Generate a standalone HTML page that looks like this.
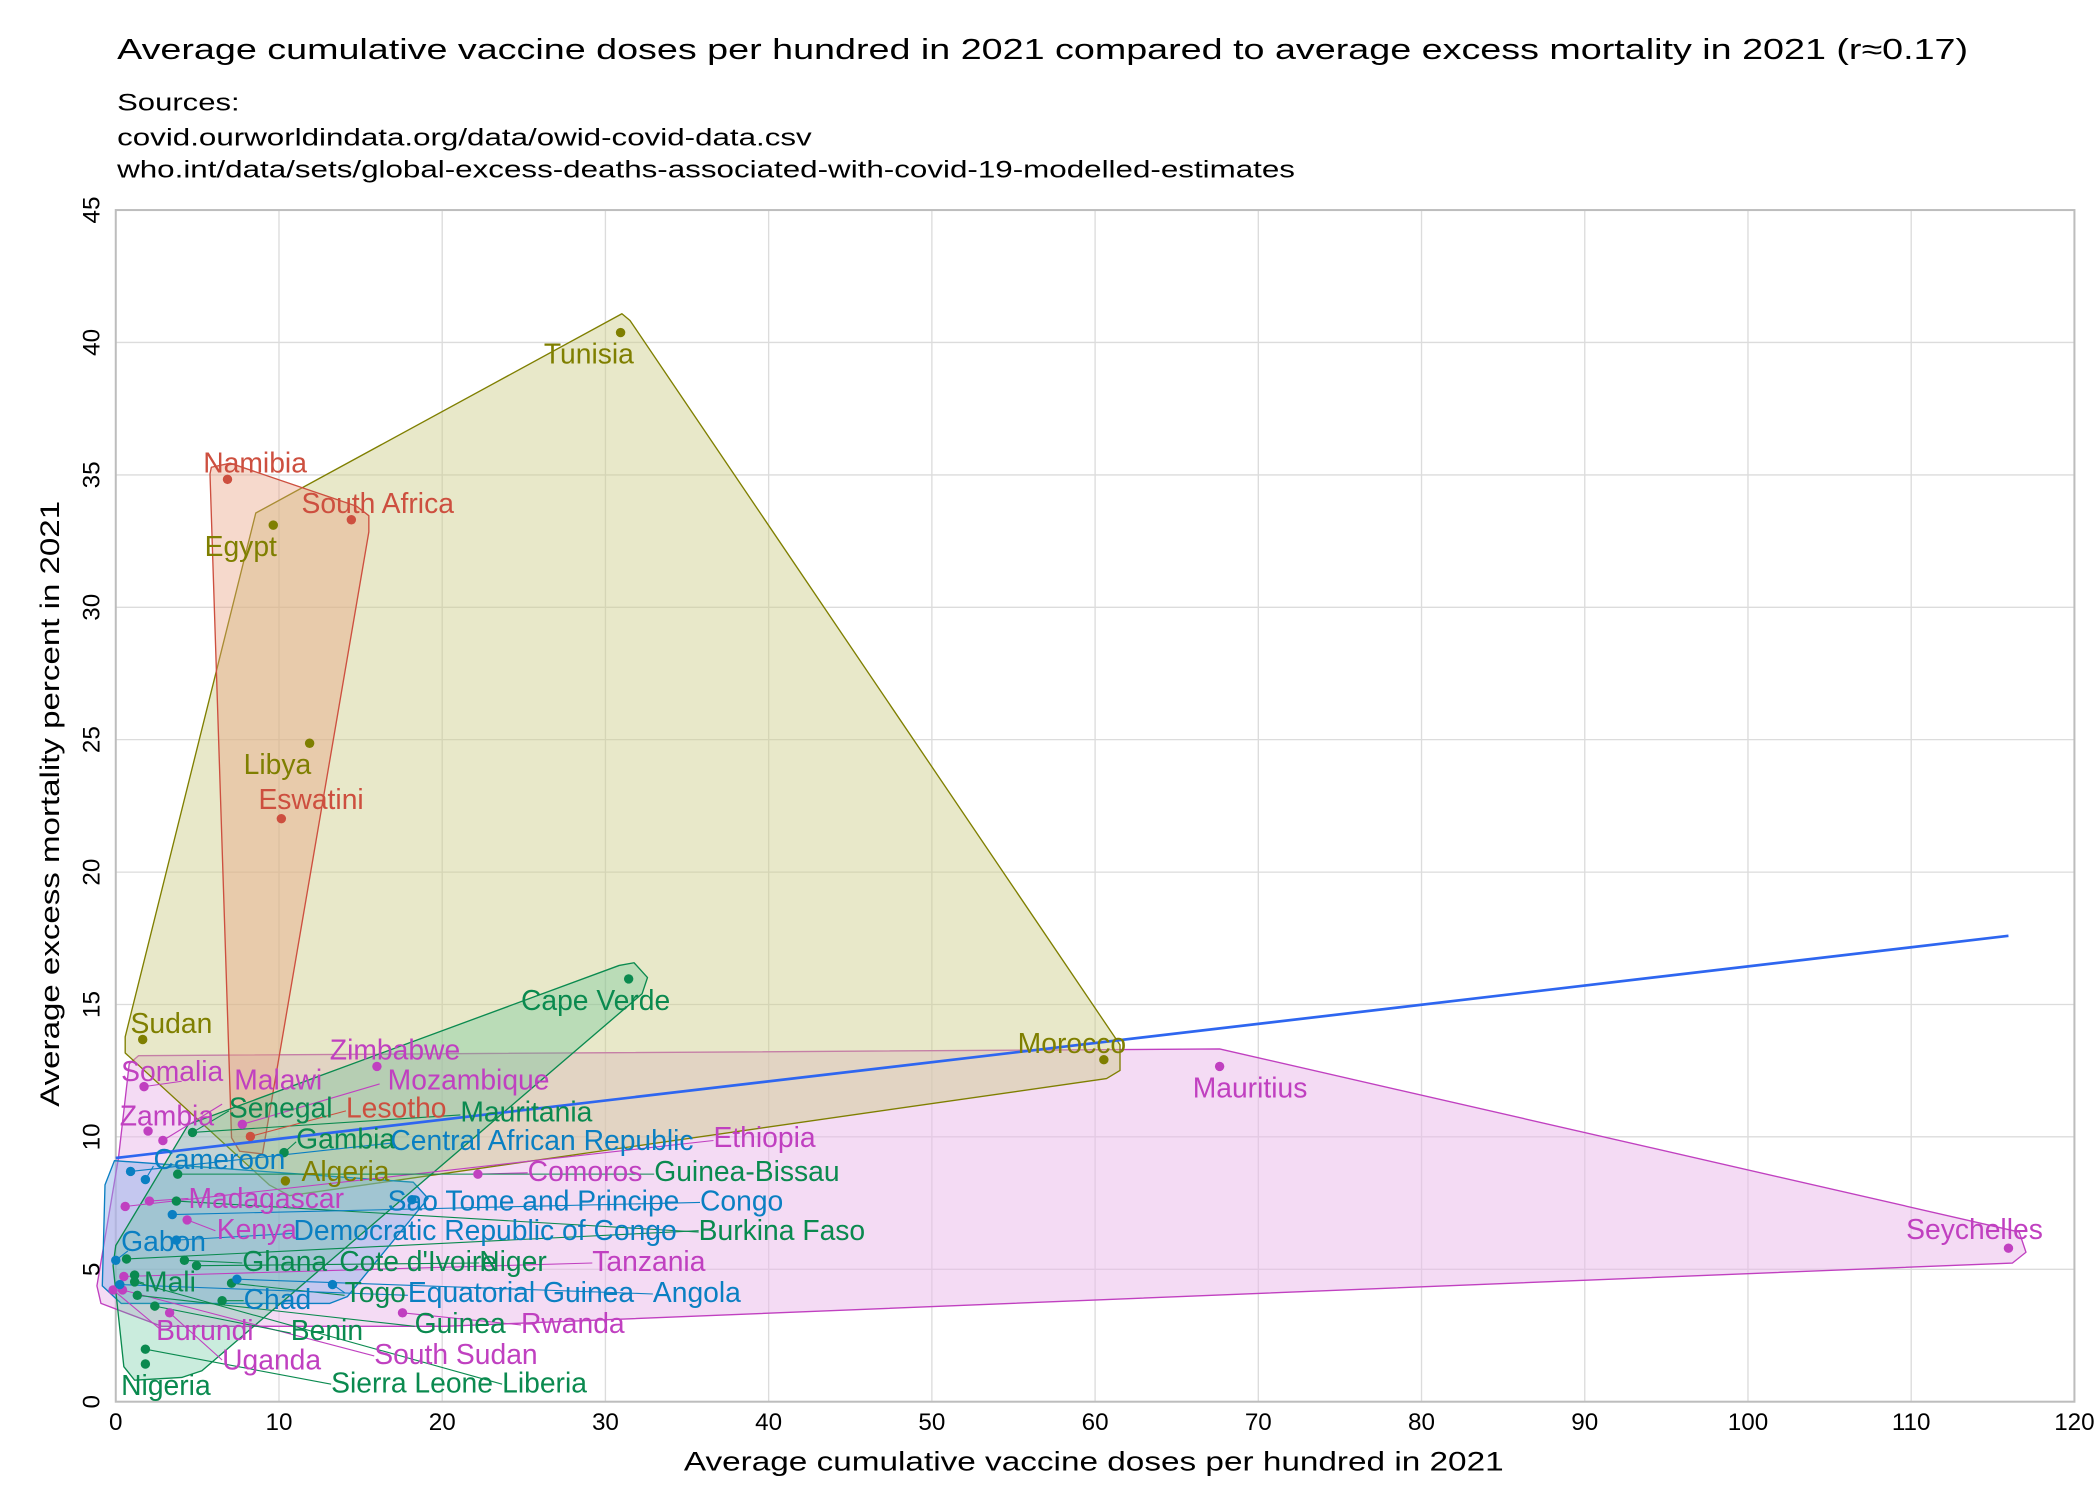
<!DOCTYPE html>
<html><head><meta charset="utf-8"><style>
html,body{margin:0;padding:0;background:#fff;}
svg{display:block;}
text{font-family:"Liberation Sans",sans-serif;}
</style></head><body>
<svg width="2100" height="1500" viewBox="0 0 1560 1114" preserveAspectRatio="none" xmlns="http://www.w3.org/2000/svg">
<rect width="1560" height="1114" fill="#fff"/>
<text x="87" y="44" font-size="21" textLength="1375" lengthAdjust="spacingAndGlyphs">Average cumulative vaccine doses per hundred in 2021 compared to average excess mortality in 2021 (r≈0.17)</text>
<text x="87" y="82" font-size="18" textLength="91" lengthAdjust="spacingAndGlyphs">Sources:</text>
<text x="87" y="108" font-size="18" textLength="516" lengthAdjust="spacingAndGlyphs">covid.ourworldindata.org/data/owid-covid-data.csv</text>
<text x="87" y="132" font-size="18" textLength="875" lengthAdjust="spacingAndGlyphs">who.int/data/sets/global-excess-deaths-associated-with-covid-19-modelled-estimates</text>

<g stroke="#dcdcdc" stroke-width="1">
<line x1="207.25" y1="156" x2="207.25" y2="1041"/><line x1="328.5" y1="156" x2="328.5" y2="1041"/><line x1="449.75" y1="156" x2="449.75" y2="1041"/><line x1="571" y1="156" x2="571" y2="1041"/><line x1="692.25" y1="156" x2="692.25" y2="1041"/><line x1="813.5" y1="156" x2="813.5" y2="1041"/><line x1="934.75" y1="156" x2="934.75" y2="1041"/><line x1="1056" y1="156" x2="1056" y2="1041"/><line x1="1177.25" y1="156" x2="1177.25" y2="1041"/><line x1="1298.5" y1="156" x2="1298.5" y2="1041"/><line x1="1419.75" y1="156" x2="1419.75" y2="1041"/>
<line x1="86" y1="942.7" x2="1541" y2="942.7"/><line x1="86" y1="844.3" x2="1541" y2="844.3"/><line x1="86" y1="746" x2="1541" y2="746"/><line x1="86" y1="647.7" x2="1541" y2="647.7"/><line x1="86" y1="549.3" x2="1541" y2="549.3"/><line x1="86" y1="451" x2="1541" y2="451"/><line x1="86" y1="352.7" x2="1541" y2="352.7"/><line x1="86" y1="254.3" x2="1541" y2="254.3"/>
</g>
<rect x="86" y="156" width="1455" height="885" fill="none" stroke="#bdbdbd" stroke-width="1.5"/>

<g stroke-linejoin="round" stroke-width="1">
<polygon points="96,790 103,784 906,779 1500,915 1505,930 1495,938 330,985 120,985 75,968 72,955 88,860" fill="#e9b8ea" fill-opacity="0.5" stroke="#c040c0"/>
<polygon points="93,770 190,381 462,233 468,238 832,776 832,795 822,801 215,888 200,880 93,782" fill="#cccc88" fill-opacity="0.45" stroke="#7f7f00"/>
<polygon points="157,347 171,344 265,376 274,383 274,395 195,857 178,855 172,845 156,352" fill="#e8a080" fill-opacity="0.4" stroke="#cd4f3f"/>
<polygon points="85,862 307,878 318,890 258,963 245,968 90,968 76,955 78,880" fill="#8ab0e8" fill-opacity="0.45" stroke="#0a7fc2"/>
<polygon points="471,715 481,726 477,738 150,1018 135,1023 100,1025 92,1015 84,940 86,925 140,835 460,717" fill="#50c090" fill-opacity="0.3" stroke="#0a8a4f"/>
</g>

<line x1="86" y1="860" x2="1492" y2="695" stroke="#2e66f0" stroke-width="2"/>

<g stroke-width="0.8" fill="none">
<g stroke="#c040c0">
<line x1="180" y1="835" x2="282" y2="805"/><line x1="107" y1="807" x2="135" y2="803"/><line x1="121" y1="847" x2="165" y2="820"/>
<line x1="355" y1="872" x2="392" y2="871"/><line x1="111" y1="892" x2="140" y2="890"/><line x1="139" y1="906" x2="160" y2="914"/>
<line x1="92" y1="948" x2="440" y2="938"/><line x1="299" y1="975" x2="387" y2="984"/><line x1="84" y1="958" x2="120" y2="988"/>
<line x1="126" y1="975" x2="165" y2="1010"/><line x1="91" y1="958" x2="278" y2="1007"/><line x1="93" y1="896" x2="530" y2="847"/>
</g>
<g stroke="#0a8a4f">
<line x1="143" y1="841" x2="170" y2="825"/><line x1="211" y1="856" x2="220" y2="848"/><line x1="132" y1="872" x2="486" y2="872"/>
<line x1="131" y1="892" x2="519" y2="915"/><line x1="94" y1="935" x2="519" y2="914"/><line x1="137" y1="936" x2="180" y2="938"/>
<line x1="146" y1="940" x2="356" y2="938"/><line x1="100" y1="951" x2="107" y2="953"/><line x1="172" y1="953" x2="256" y2="962"/>
<line x1="102" y1="962" x2="308" y2="985"/><line x1="115" y1="970" x2="216" y2="990"/><line x1="108" y1="1002" x2="246" y2="1028"/>
<line x1="100" y1="952" x2="373" y2="1028"/><line x1="165" y1="966" x2="181" y2="966"/><line x1="143" y1="841" x2="342" y2="828"/>
</g>
<g stroke="#0a7fc2">
<line x1="97" y1="870" x2="290" y2="849"/><line x1="108" y1="876" x2="114" y2="866"/><line x1="128" y1="902" x2="520" y2="893"/>
<line x1="131" y1="921" x2="218" y2="916"/><line x1="86" y1="936" x2="95" y2="929"/><line x1="176" y1="950" x2="485" y2="961"/>
<line x1="89" y1="954" x2="303" y2="962"/><line x1="247" y1="954" x2="256" y2="960"/>
</g>
<line x1="186" y1="844" x2="257" y2="825" stroke="#cd4f3f"/>
</g>

<g fill="#7f7f00"><circle cx="461" cy="247" r="3.5"/><circle cx="203" cy="390" r="3.5"/><circle cx="230" cy="552" r="3.5"/><circle cx="106" cy="772" r="3.5"/><circle cx="820" cy="787" r="3.5"/><circle cx="212" cy="877" r="3.5"/></g>
<g fill="#cd4f3f"><circle cx="169" cy="356" r="3.5"/><circle cx="261" cy="386" r="3.5"/><circle cx="209" cy="608" r="3.5"/><circle cx="186" cy="844" r="3.5"/></g>
<g fill="#c040c0"><circle cx="906" cy="792" r="3.5"/><circle cx="1492" cy="927" r="3.5"/><circle cx="280" cy="792" r="3.5"/><circle cx="107" cy="807" r="3.5"/><circle cx="110" cy="840" r="3.5"/><circle cx="121" cy="847" r="3.5"/><circle cx="180" cy="835" r="3.5"/><circle cx="355" cy="872" r="3.5"/><circle cx="93" cy="896" r="3.5"/><circle cx="111" cy="892" r="3.5"/><circle cx="139" cy="906" r="3.5"/><circle cx="92" cy="948" r="3.5"/><circle cx="84" cy="958" r="3.5"/><circle cx="91" cy="958" r="3.5"/><circle cx="126" cy="975" r="3.5"/><circle cx="299" cy="975" r="3.5"/></g>
<g fill="#0a8a4f"><circle cx="467" cy="727" r="3.5"/><circle cx="143" cy="841" r="3.5"/><circle cx="211" cy="856" r="3.5"/><circle cx="132" cy="872" r="3.5"/><circle cx="131" cy="892" r="3.5"/><circle cx="94" cy="935" r="3.5"/><circle cx="137" cy="936" r="3.5"/><circle cx="146" cy="940" r="3.5"/><circle cx="100" cy="947" r="3.5"/><circle cx="100" cy="952" r="3.5"/><circle cx="172" cy="953" r="3.5"/><circle cx="102" cy="962" r="3.5"/><circle cx="165" cy="966" r="3.5"/><circle cx="115" cy="970" r="3.5"/><circle cx="108" cy="1002" r="3.5"/><circle cx="108" cy="1013" r="3.5"/></g>
<g fill="#0a7fc2"><circle cx="97" cy="870" r="3.5"/><circle cx="108" cy="876" r="3.5"/><circle cx="306" cy="891" r="3.5"/><circle cx="128" cy="902" r="3.5"/><circle cx="131" cy="921" r="3.5"/><circle cx="86" cy="936" r="3.5"/><circle cx="89" cy="954" r="3.5"/><circle cx="176" cy="950" r="3.5"/><circle cx="247" cy="954" r="3.5"/></g>

<g font-size="21">
<g fill="#7f7f00"><text x="404" y="270">Tunisia</text><text x="152" y="413">Egypt</text><text x="181" y="575">Libya</text><text x="97" y="767">Sudan</text><text x="756" y="782">Morocco</text><text x="224" y="877">Algeria</text></g>
<g fill="#cd4f3f"><text x="151" y="351">Namibia</text><text x="224" y="381">South Africa</text><text x="192" y="601">Eswatini</text><text x="257" y="830">Lesotho</text></g>
<g fill="#c040c0"><text x="886" y="815">Mauritius</text><text x="1416" y="920">Seychelles</text><text x="245" y="787">Zimbabwe</text><text x="90" y="803">Somalia</text><text x="174" y="809">Malawi</text><text x="288" y="809">Mozambique</text><text x="89" y="836">Zambia</text><text x="530" y="852">Ethiopia</text><text x="392" y="877">Comoros</text><text x="140" y="897">Madagascar</text><text x="161" y="920">Kenya</text><text x="440" y="944">Tanzania</text><text x="387" y="990">Rwanda</text><text x="116" y="995">Burundi</text><text x="165" y="1017">Uganda</text><text x="278" y="1013">South Sudan</text></g>
<g fill="#0a8a4f"><text x="387" y="750">Cape Verde</text><text x="170" y="830">Senegal</text><text x="342" y="833">Mauritania</text><text x="220" y="853">Gambia</text><text x="486" y="877">Guinea-Bissau</text><text x="519" y="921">Burkina Faso</text><text x="180" y="944">Ghana</text><text x="252" y="944">Cote d'Ivoire</text><text x="356" y="944">Niger</text><text x="107" y="959">Mali</text><text x="256" y="967">Togo</text><text x="308" y="990">Guinea</text><text x="216" y="995">Benin</text><text x="90" y="1036">Nigeria</text><text x="246" y="1034">Sierra Leone</text><text x="373" y="1034">Liberia</text></g>
<g fill="#0a7fc2"><text x="290" y="854">Central African Republic</text><text x="114" y="868">Cameroon</text><text x="288" y="899">Sao Tome and Principe</text><text x="520" y="899">Congo</text><text x="218" y="921">Democratic Republic of Congo</text><text x="90" y="929">Gabon</text><text x="181" y="972">Chad</text><text x="303" y="967">Equatorial Guinea</text><text x="485" y="967">Angola</text></g>
</g>

<g font-size="18" text-anchor="middle">
<text x="86" y="1062">0</text><text x="207.25" y="1062">10</text><text x="328.5" y="1062">20</text><text x="449.75" y="1062">30</text><text x="571" y="1062">40</text><text x="692.25" y="1062">50</text><text x="813.5" y="1062">60</text><text x="934.75" y="1062">70</text><text x="1056" y="1062">80</text><text x="1177.25" y="1062">90</text><text x="1298.5" y="1062">100</text><text x="1419.75" y="1062">110</text><text x="1541" y="1062">120</text>
<text transform="translate(74,1041) rotate(-90)">0</text><text transform="translate(74,942.7) rotate(-90)">5</text><text transform="translate(74,844.3) rotate(-90)">10</text><text transform="translate(74,746) rotate(-90)">15</text><text transform="translate(74,647.7) rotate(-90)">20</text><text transform="translate(74,549.3) rotate(-90)">25</text><text transform="translate(74,451) rotate(-90)">30</text><text transform="translate(74,352.7) rotate(-90)">35</text><text transform="translate(74,254.3) rotate(-90)">40</text><text transform="translate(74,156) rotate(-90)">45</text>
</g>
<text x="508" y="1092" font-size="20" textLength="609" lengthAdjust="spacingAndGlyphs">Average cumulative vaccine doses per hundred in 2021</text>
<text transform="translate(44,822) rotate(-90)" font-size="20" textLength="450" lengthAdjust="spacingAndGlyphs">Average excess mortality percent in 2021</text>
</svg>
</body></html>
